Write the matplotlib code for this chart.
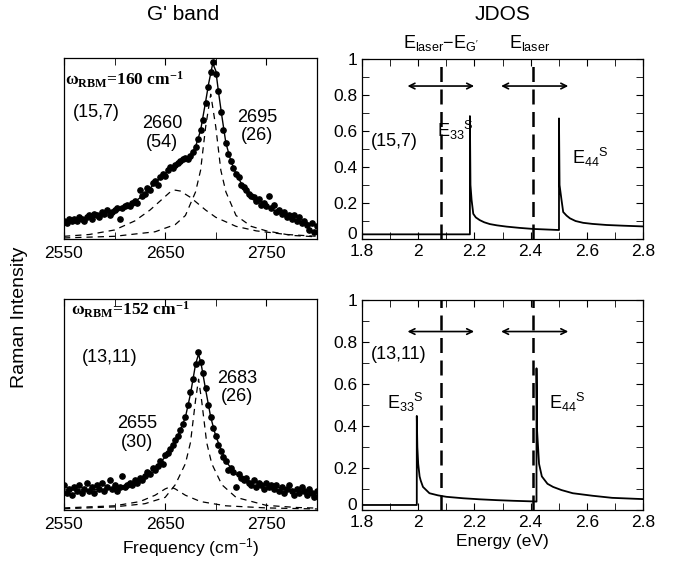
import matplotlib
matplotlib.use('Agg')
import matplotlib.pyplot as plt
from matplotlib.ticker import MultipleLocator, FixedLocator
import numpy as np

plt.rcParams['font.family'] = ['Liberation Sans', 'DejaVu Sans']
plt.rcParams['mathtext.default'] = 'regular'

# ---- G' band, (15,7) ----
freq_a = [2550, 2552.5, 2555, 2557.5, 2560, 2562.5, 2565, 2567.5, 2570, 2572.5,
          2575, 2577.5, 2580, 2582.5, 2585, 2587.5, 2590, 2592.5, 2595, 2597.5,
          2600, 2602.5, 2605, 2607.5, 2610, 2612.5, 2615, 2617.5, 2620, 2622.5,
          2625, 2627.5, 2630, 2632.5, 2635, 2637.5, 2640, 2642.5, 2645, 2647.5,
          2650, 2652.5, 2655, 2657.5, 2660, 2662.5, 2665, 2667.5, 2670, 2672.5,
          2675, 2677.5, 2680, 2682.5, 2685, 2687.5, 2690, 2692.5, 2695, 2697.5,
          2700, 2702.5, 2705, 2707.5, 2710, 2712.5, 2715, 2717.5, 2720, 2722.5,
          2725, 2727.5, 2730, 2732.5, 2735, 2737.5, 2740, 2742.5, 2745, 2747.5,
          2750, 2752.5, 2755, 2757.5, 2760, 2762.5, 2765, 2767.5, 2770, 2772.5,
          2775, 2777.5, 2780, 2782.5, 2785, 2787.5, 2790, 2792.5, 2795, 2797.5, 2800]
int_a = [0.10, 0.09, 0.11, 0.10, 0.11, 0.10, 0.12, 0.11, 0.10, 0.12,
         0.13, 0.11, 0.14, 0.13, 0.12, 0.15, 0.14, 0.16, 0.13, 0.15,
         0.16, 0.17, 0.11, 0.17, 0.18, 0.19, 0.18, 0.20, 0.21, 0.20,
         0.27, 0.24, 0.25, 0.28, 0.27, 0.31, 0.32, 0.30, 0.34, 0.36,
         0.35, 0.38, 0.40, 0.39, 0.41, 0.42, 0.43, 0.44, 0.45, 0.44,
         0.46, 0.48, 0.51, 0.55, 0.60, 0.66, 0.75, 0.84, 0.92, 0.98,
         0.91, 0.82, 0.70, 0.60, 0.53, 0.47, 0.43, 0.39, 0.36, 0.34,
         0.30, 0.29, 0.27, 0.25, 0.24, 0.23, 0.21, 0.22, 0.19, 0.20,
         0.18, 0.24, 0.17, 0.19, 0.15, 0.16, 0.14, 0.15, 0.12, 0.13,
         0.11, 0.13, 0.10, 0.12, 0.09, 0.10, 0.08, 0.05, 0.09, 0.04, 0.07]
fit_a_x = [2550, 2560, 2570, 2580, 2590, 2600, 2610, 2620, 2630, 2640, 2650, 2660,
           2670, 2675, 2680, 2685, 2690, 2693, 2697, 2700, 2703, 2706, 2710, 2715,
           2720, 2725, 2730, 2740, 2750, 2760, 2770, 2780, 2790, 2800]
fit_a_y = [0.10, 0.11, 0.115, 0.13, 0.145, 0.16, 0.18, 0.205, 0.25, 0.31, 0.36, 0.41,
           0.445, 0.465, 0.51, 0.60, 0.76, 0.86, 0.97, 0.93, 0.80, 0.68, 0.53, 0.43,
           0.36, 0.31, 0.27, 0.22, 0.185, 0.15, 0.125, 0.105, 0.09, 0.075]
broad_a_x = [2550, 2575, 2600, 2620, 2635, 2645, 2655, 2660, 2665, 2675, 2690, 2700,
             2720, 2740, 2770, 2800]
broad_a_y = [0.015, 0.025, 0.05, 0.10, 0.16, 0.21, 0.26, 0.27, 0.265, 0.23, 0.16, 0.12,
             0.07, 0.045, 0.025, 0.015]
narrow_a_x = [2550, 2600, 2640, 2660, 2670, 2680, 2685, 2690, 2695, 2700, 2705, 2710,
              2720, 2735, 2750, 2775, 2800]
narrow_a_y = [0.006, 0.015, 0.04, 0.08, 0.13, 0.26, 0.38, 0.62, 0.80, 0.62, 0.38, 0.26,
              0.13, 0.07, 0.045, 0.02, 0.012]

# ---- G' band, (13,11) ----
freq_b = freq_a
int_b = [0.12, 0.08, 0.10, 0.07, 0.11, 0.09, 0.12, 0.08, 0.10, 0.13,
         0.09, 0.11, 0.08, 0.12, 0.10, 0.13, 0.09, 0.11, 0.14, 0.10,
         0.12, 0.09, 0.11, 0.16, 0.11, 0.12, 0.13, 0.12, 0.14, 0.13,
         0.15, 0.14, 0.16, 0.18, 0.17, 0.20, 0.19, 0.21, 0.23, 0.22,
         0.26, 0.27, 0.29, 0.31, 0.33, 0.35, 0.38, 0.41, 0.44, 0.50,
         0.56, 0.62, 0.69, 0.75, 0.70, 0.65, 0.58, 0.50, 0.44, 0.39,
         0.35, 0.31, 0.28, 0.25, 0.23, 0.19, 0.20, 0.18, 0.11, 0.17,
         0.15, 0.14, 0.15, 0.13, 0.12, 0.14, 0.11, 0.13, 0.12, 0.10,
         0.13, 0.11, 0.12, 0.10, 0.12, 0.09, 0.11, 0.08, 0.10, 0.12,
         0.09, 0.07, 0.10, 0.08, 0.11, 0.09, 0.07, 0.10, 0.08, 0.06, 0.09]
fit_b_x = [2550, 2575, 2600, 2620, 2635, 2650, 2660, 2670, 2675, 2680, 2683, 2686,
           2690, 2695, 2700, 2710, 2720, 2730, 2750, 2770, 2790, 2800]
fit_b_y = [0.095, 0.095, 0.10, 0.134, 0.18, 0.25, 0.32, 0.44, 0.55, 0.69, 0.74, 0.68,
           0.57, 0.44, 0.35, 0.23, 0.17, 0.14, 0.12, 0.10, 0.087, 0.07]
broad_b_x = [2550, 2600, 2625, 2640, 2650, 2655, 2660, 2670, 2685, 2710, 2750, 2800]
broad_b_y = [0.01, 0.02, 0.04, 0.07, 0.10, 0.11, 0.10, 0.07, 0.04, 0.02, 0.01, 0.005]
narrow_b_x = [2550, 2600, 2630, 2650, 2660, 2670, 2675, 2680, 2683, 2686, 2691, 2696,
              2706, 2720, 2750, 2780, 2800]
narrow_b_y = [0.006, 0.015, 0.03, 0.06, 0.12, 0.22, 0.32, 0.52, 0.62, 0.52, 0.32, 0.22,
              0.12, 0.06, 0.022, 0.012, 0.009]

# ---- JDOS ----
e_a = [1.8, 2.184, 2.184, 2.186, 2.19, 2.196, 2.205, 2.219, 2.235, 2.255, 2.28, 2.314,
       2.36, 2.409, 2.501, 2.501, 2.503, 2.51, 2.516, 2.528, 2.54, 2.56, 2.587, 2.62,
       2.67, 2.73, 2.8]
jdos_a = [0.026, 0.026, 0.683, 0.30, 0.217, 0.14, 0.12, 0.105, 0.093, 0.083, 0.076, 0.069,
          0.062, 0.056, 0.05, 0.67, 0.30, 0.217, 0.15, 0.13, 0.115, 0.10, 0.09, 0.084,
          0.078, 0.074, 0.07]
e_b = [1.8, 1.995, 1.995, 1.997, 2.0, 2.005, 2.009, 2.017, 2.04, 2.07, 2.1, 2.16, 2.219,
       2.28, 2.338, 2.41, 2.421, 2.421, 2.423, 2.43, 2.44, 2.46, 2.48, 2.51, 2.55, 2.62,
       2.69, 2.8]
jdos_b = [0.024, 0.024, 0.448, 0.30, 0.22, 0.16, 0.14, 0.11, 0.08, 0.07, 0.063, 0.056,
          0.051, 0.047, 0.044, 0.041, 0.04, 0.675, 0.38, 0.22, 0.16, 0.125, 0.11, 0.095,
          0.08, 0.068, 0.058, 0.052]
e_laser_minus_g = 2.08
e_laser = 2.407
arrows = [(1.962, 2.199), (2.295, 2.534)]

fig = plt.figure(figsize=(6.77, 5.66), dpi=100)
ax1 = fig.add_axes([0.0945, 0.5777, 0.3737, 0.3198])
ax2 = fig.add_axes([0.5347, 0.5777, 0.4151, 0.318])
ax3 = fig.add_axes([0.0945, 0.0989, 0.3737, 0.3728])
ax4 = fig.add_axes([0.5347, 0.0989, 0.4151, 0.371])

dash = (0, (5, 4))
for ax, fx, fy, sx, sy, bx, by, nx, ny in [
        (ax1, freq_a, int_a, fit_a_x, fit_a_y, broad_a_x, broad_a_y, narrow_a_x, narrow_a_y),
        (ax3, freq_b, int_b, fit_b_x, fit_b_y, broad_b_x, broad_b_y, narrow_b_x, narrow_b_y)]:
    ax.plot(fx, fy, 'o', color='black', markersize=3.8)
    ax.plot(sx, sy, '-', color='black', lw=1.0)
    ax.plot(bx, by, color='black', lw=0.9, linestyle=dash)
    ax.plot(nx, ny, color='black', lw=0.9, linestyle=dash)
    ax.set_xlim(2550, 2800)
    ax.set_ylim(0, 1)
    ax.set_yticks([])
    ax.xaxis.set_major_locator(FixedLocator([2550, 2650, 2750]))
    ax.xaxis.set_minor_locator(FixedLocator([2600, 2700]))
    ax.tick_params(axis='x', which='both', direction='in', top=True, labelsize=12.5, pad=5)
    ax.tick_params(axis='x', which='major', length=5)
    ax.tick_params(axis='x', which='minor', length=5)

for ax, ex, jy in [(ax2, e_a, jdos_a), (ax4, e_b, jdos_b)]:
    ax.plot(ex, jy, color='black', lw=1.3)
    ax.axvline(e_laser_minus_g, color='black', lw=1.8, linestyle=(0, (6, 3)))
    ax.axvline(e_laser, color='black', lw=1.8, linestyle=(0, (6, 3)))
    for x1, x2 in arrows:
        ax.annotate('', xy=(x2, 0.85), xytext=(x1, 0.85),
                    arrowprops=dict(arrowstyle='<->', lw=1.2, color='black',
                                    shrinkA=0, shrinkB=0))
    ax.set_xlim(1.8, 2.8)
    ax.set_ylim(0, 1)
    ax.xaxis.set_major_locator(MultipleLocator(0.2))
    ax.xaxis.set_minor_locator(MultipleLocator(0.1))
    ax.yaxis.set_major_locator(MultipleLocator(0.2))
    ax.yaxis.set_minor_locator(MultipleLocator(0.1))
    ax.set_xticks([1.8, 2.0, 2.2, 2.4, 2.6, 2.8], ['1.8', '2', '2.2', '2.4', '2.6', '2.8'])
    ax.set_yticks([0, 0.2, 0.4, 0.6, 0.8, 1.0], ['0', '0.2', '0.4', '0.6', '0.8', '1'])
    ax.tick_params(which='both', direction='in', top=True, right=True, labelsize=12.5, length=5)
    ax.get_yticklabels()[0].set_verticalalignment('baseline')

for ax in [ax1, ax2, ax3, ax4]:
    for s in ax.spines.values():
        s.set_linewidth(0.9)

# annotations, left panels
serif = dict(family='Liberation Serif', weight='bold', fontsize=12.5)
ax1.text(2551, 0.88, r'ω$_{RBM}$=160 cm$^{-1}$', va='center', ha='left', **serif)
ax1.text(2559, 0.70, '(15,7)', fontsize=13, va='center')
ax1.text(2647, 0.585, '2660\n(54)', fontsize=13, ha='center', va='center', linespacing=1.1)
ax1.text(2741, 0.62, '2695\n(26)', fontsize=13, ha='center', va='center', linespacing=1.1)

ax3.text(2557, 0.95, r'ω$_{RBM}$=152 cm$^{-1}$', va='center', ha='left', **serif)
ax3.text(2568, 0.725, '(13,11)', fontsize=13, va='center')
ax3.text(2622, 0.365, '2655\n(30)', fontsize=13, ha='center', va='center', linespacing=1.1)
ax3.text(2721, 0.58, '2683\n(26)', fontsize=13, ha='center', va='center', linespacing=1.1)
ax3.set_xlabel(r'Frequency (cm$^{-1}$)', fontsize=12.5, labelpad=3)

# annotations, right panels
ax2.text(1.83, 0.54, '(15,7)', fontsize=13, va='center')
ax2.text(2.066, 0.605, r'E$_{33}$$^{S}$', fontsize=13, va='center')
ax2.text(2.547, 0.455, r'E$_{44}$$^{S}$', fontsize=13, va='center')
ax4.text(1.83, 0.74, '(13,11)', fontsize=13, va='center')
ax4.text(1.889, 0.51, r'E$_{33}$$^{S}$', fontsize=13, va='center')
ax4.text(2.467, 0.51, r'E$_{44}$$^{S}$', fontsize=13, va='center')
ax4.set_xlabel('Energy (eV)', fontsize=12.5, labelpad=3)

ax2.text(e_laser_minus_g, 1.09, r"E$_{laser}$$-$E$_{G'}$", fontsize=13, ha='center', va='center')
ax2.text(e_laser - 0.01, 1.09, r'E$_{laser}$', fontsize=13, ha='center', va='center')

fig.text(183 / 677, 1 - 14 / 566, "G' band", fontsize=15, ha='center', va='center')
fig.text(503 / 677, 1 - 14 / 566, 'JDOS', fontsize=15, ha='center', va='center')
fig.text(20 / 677, 1 - 317 / 566, 'Raman Intensity', fontsize=14, rotation=90,
         ha='center', va='center')

fig.savefig('out.png', dpi=100)
